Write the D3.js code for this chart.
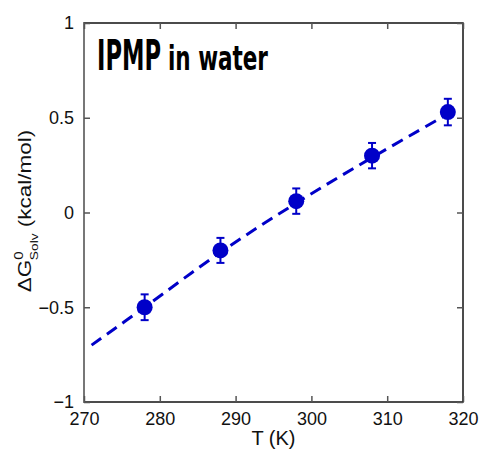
<!DOCTYPE html>
<html>
<head>
<meta charset="utf-8">
<script src="https://cdn.jsdelivr.net/npm/d3@7"></script>
<style>
body { margin: 0; background: #fff; }
text { font-family: "Liberation Sans", Arial, sans-serif; }
</style>
</head>
<body>
<script>
//data
var temps = [278, 288, 298, 308, 318];
var dG = [-0.50, -0.20, 0.06, 0.30, 0.53];
var errs = [0.068, 0.066, 0.067, 0.067, 0.07];
var fitT = [271, 278, 288, 298, 308, 318];
var fitG = [-0.70, -0.50, -0.21, 0.05, 0.29, 0.52];
var xTicks = [270, 280, 290, 300, 310, 320];
var yTicks = [-1, -0.5, 0, 0.5, 1];

var width = 481, height = 450;
var margin = {left: 84, right: 18, top: 23, bottom: 48};
var blue = "#0000c8";

var svg = d3.select("body").append("svg")
    .attr("width", width)
    .attr("height", height);

var x = d3.scaleLinear().domain([270, 320]).range([margin.left, width - margin.right]);
var y = d3.scaleLinear().domain([-1, 1]).range([height - margin.bottom, margin.top]);

//frame
svg.append("rect")
    .attr("x", x(270)).attr("y", y(1))
    .attr("width", x(320) - x(270)).attr("height", y(-1) - y(1))
    .attr("fill", "none").attr("stroke", "#111").attr("stroke-width", 1.5);
svg.append("line")
    .attr("x1", x(270)).attr("x2", x(270)).attr("y1", y(1)).attr("y2", y(-1))
    .attr("stroke", "#777").attr("stroke-width", 2);

//ticks inward on all sides
function tickFmt(d){ return d3.format("")(d); }
var bottomAxis = d3.axisBottom(x).tickValues(xTicks).tickSize(-6).tickPadding(10).tickFormat(tickFmt);
var topAxis = d3.axisTop(x).tickValues(xTicks).tickSize(-6).tickFormat("");
var leftAxis = d3.axisLeft(y).tickValues(yTicks).tickSize(-6).tickPadding(10).tickFormat(tickFmt);
var rightAxis = d3.axisRight(y).tickValues(yTicks).tickSize(-6).tickFormat("");

var gb = svg.append("g").attr("transform", "translate(0," + y(-1) + ")").call(bottomAxis);
var gt = svg.append("g").attr("transform", "translate(0," + y(1) + ")").call(topAxis);
var gl = svg.append("g").attr("transform", "translate(" + x(270) + ",0)").call(leftAxis);
var gr = svg.append("g").attr("transform", "translate(" + x(320) + ",0)").call(rightAxis);
[gb, gt, gl, gr].forEach(function(g){
    g.select(".domain").remove();
    g.selectAll("line").attr("stroke", "#555").attr("stroke-width", 1.5);
    g.selectAll("text").attr("font-size", 18).attr("fill", "#111")
        .style("font-family", "'Liberation Sans', Arial, sans-serif");
});
gb.selectAll("text").attr("dy", "0.72em");

//dashed fit line
var line = d3.line()
    .x(function(d){ return x(d[0]); })
    .y(function(d){ return y(d[1]); })
    .curve(d3.curveCatmullRom);
svg.append("path")
    .datum(d3.zip(fitT, fitG))
    .attr("d", line)
    .attr("fill", "none")
    .attr("stroke", blue)
    .attr("stroke-width", 3)
    .attr("stroke-dasharray", "12,7");

//error bars
var pts = d3.zip(temps, dG, errs);
var eb = svg.selectAll(".err").data(pts).enter().append("g").attr("class", "err")
    .attr("stroke", blue).attr("stroke-width", 2);
eb.append("line")
    .attr("x1", function(d){ return x(d[0]); }).attr("x2", function(d){ return x(d[0]); })
    .attr("y1", function(d){ return y(d[1] + d[2]); }).attr("y2", function(d){ return y(d[1] - d[2]); });
eb.append("line")
    .attr("x1", function(d){ return x(d[0]) - 4; }).attr("x2", function(d){ return x(d[0]) + 4; })
    .attr("y1", function(d){ return y(d[1] + d[2]); }).attr("y2", function(d){ return y(d[1] + d[2]); });
eb.append("line")
    .attr("x1", function(d){ return x(d[0]) - 4; }).attr("x2", function(d){ return x(d[0]) + 4; })
    .attr("y1", function(d){ return y(d[1] - d[2]); }).attr("y2", function(d){ return y(d[1] - d[2]); });

//markers
svg.selectAll(".dot").data(pts).enter().append("circle")
    .attr("class", "dot")
    .attr("cx", function(d){ return x(d[0]); })
    .attr("cy", function(d){ return y(d[1]); })
    .attr("r", 8)
    .attr("fill", blue);

//title, two pieces squeezed horizontally to the widths in the picture
var titleFont = "'Liberation Sans Narrow', 'DejaVu Sans Condensed', sans-serif";
function squeezedText(str, x0, size, target){
    var t = svg.append("text")
        .attr("font-size", size)
        .style("font-family", titleFont).style("font-weight", "bold")
        .text(str);
    var len = t.node().getComputedTextLength();
    t.attr("transform", "translate(" + x0 + ",70) scale(" + (target / len) + ",1)");
    return t;
}
squeezedText("IPMP", 97, 42, 64);
squeezedText("in water", 168, 34, 100);

//x label
svg.append("text")
    .attr("x", (x(270) + x(320)) / 2)
    .attr("y", 445)
    .attr("text-anchor", "middle")
    .attr("font-size", 20)
    .attr("fill", "#111")
    .text("T (K)");

//y label (stretched along its length as in the picture)
var yl = svg.append("text")
    .attr("transform", "translate(31,211) rotate(-90) scale(1.25,1)")
    .attr("text-anchor", "middle")
    .attr("font-size", 18)
    .attr("fill", "#111");
yl.append("tspan").text("\u0394G");
yl.append("tspan").attr("font-size", 12).attr("dy", -8).text("0");
yl.append("tspan").attr("font-size", 11).attr("dx", -7).attr("dy", 15).text("Solv");
yl.append("tspan").attr("dy", -7).text(" (kcal/mol)");
</script>
</body>
</html>
